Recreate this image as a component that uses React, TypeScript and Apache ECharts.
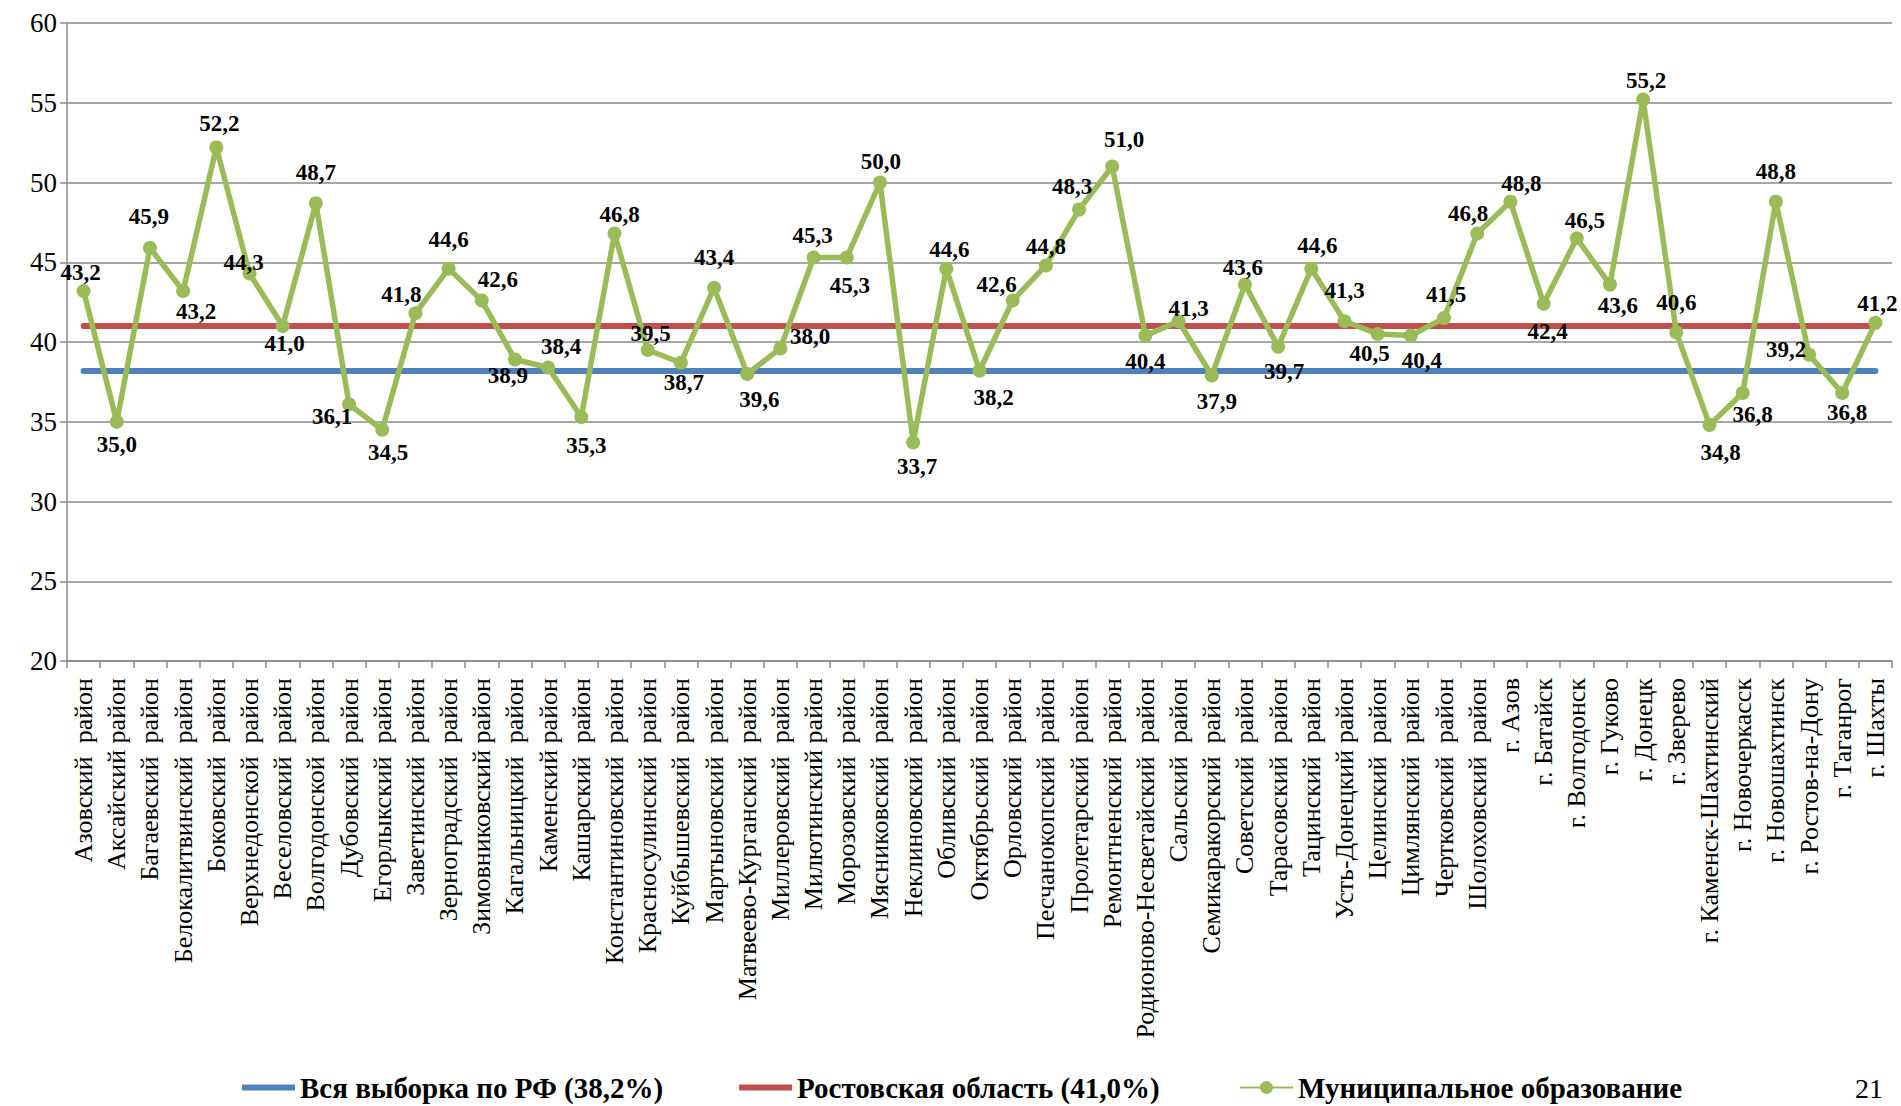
import React, { useEffect, useRef } from "react";
import * as echarts from "echarts";

const categories = [
  "Азовский  район", "Аксайский район", "Багаевский  район", "Белокалитвинский  район", "Боковский  район",
  "Верхнедонской  район", "Веселовский  район", "Волгодонской  район", "Дубовский  район", "Егорлыкский  район",
  "Заветинский  район", "Зерноградский  район", "Зимовниковский район", "Кагальницкий  район", "Каменский район",
  "Кашарский  район", "Константиновский  район", "Красносулинский  район", "Куйбышевский  район", "Мартыновский  район",
  "Матвеево-Курганский  район", "Миллеровский  район", "Милютинский район", "Морозовский  район", "Мясниковский  район",
  "Неклиновский  район", "Обливский  район", "Октябрьский  район", "Орловский  район", "Песчанокопский  район",
  "Пролетарский  район", "Ремонтненский  район", "Родионово-Несветайский  район", "Сальский  район", "Семикаракорский  район",
  "Советский  район", "Тарасовский  район", "Тацинский  район", "Усть-Донецкий район", "Целинский  район",
  "Цимлянский  район", "Чертковский  район", "Шолоховский  район", "г. Азов", "г. Батайск",
  "г. Волгодонск", "г. Гуково", "г. Донецк", "г. Зверево", "г. Каменск-Шахтинский",
  "г. Новочеркасск", "г. Новошахтинск", "г. Ростов-на-Дону", "г. Таганрог", "г. Шахты",
];

const municipalValues = [
  43.2, 35.0, 45.9, 43.2, 52.2, 44.3, 41.0, 48.7, 36.1, 34.5,
  41.8, 44.6, 42.6, 38.9, 38.4, 35.3, 46.8, 39.5, 38.7, 43.4,
  38.0, 39.6, 45.3, 45.3, 50.0, 33.7, 44.6, 38.2, 42.6, 44.8,
  48.3, 51.0, 40.4, 41.3, 37.9, 43.6, 39.7, 44.6, 41.3, 40.5,
  40.4, 41.5, 46.8, 48.8, 42.4, 46.5, 43.6, 55.2, 40.6, 34.8,
  36.8, 48.8, 39.2, 36.8, 41.2,
];

const rfAverage = 38.2;
const rostovAverage = 41.0;

const seriesNames = [
  "Вся выборка по РФ (38,2%)",
  "Ростовская область (41,0%)",
  "Муниципальное образование",
];

const yMin = 20;
const yMax = 60;
const yInterval = 5;

const pageNumber = "21";

// label centre offset from its point centre, px: [dx, dy]
const labelOffsets: [number, number][] = [
  [-3, -18], [0, 23], [-1, -31], [13, 21], [3, -24],
  [-6, -11], [2, 17], [0, -31], [-17, 12], [6, 23],
  [-14, -19], [0, -29], [16, -21], [-7, 16], [13, -21],
  [5, 29], [5, -19], [3, -16], [3, 20], [0, -30],
  [63, -37], [-21, 51], [-1, -22], [3, 28], [1, -21],
  [4, 24], [3, -19], [14, 27], [-16, -16], [0, -19],
  [-7, -23], [12, -27], [0, 26], [10, -13], [5, 26],
  [-2, -17], [6, 25], [6, -23], [0, -31], [-8, 19],
  [11, 25], [2, -24], [-9, -20], [11, -18], [4, 28],
  [8, -18], [8, 21], [3, -19], [0, -30], [11, 28],
  [10, 21], [0, -30], [-23, -5], [5, 19], [2, -19],
];

const FONT = '"Liberation Serif", "Times New Roman", serif';
const GRID_COLOR = "#8a8a8a";
const BLUE = "#4F81BD";
const RED = "#C0504D";
const GREEN = "#9BBB59";

const fmt = (v: number) => v.toFixed(1).replace(".", ",");

export default function App() {
  const ref = useRef<HTMLDivElement>(null);

  useEffect(() => {
    if (!ref.current) return;
    const chart = echarts.init(ref.current, null, { renderer: "svg" });

    const refLine = (value: number, color: string) => ({
      silent: true,
      z: 1,
      symbol: "none",
      label: { show: false },
      emphasis: { disabled: true },
      lineStyle: { color, width: 6, type: "solid", cap: "round" },
      data: [[{ coord: [0, value] }, { coord: [categories.length - 1, value] }]],
    });

    const legendText = { fontFamily: FONT, fontSize: 29, fontWeight: "bold", color: "#000" };

    const option = {
      animation: false,
      backgroundColor: "#ffffff",
      textStyle: { fontFamily: FONT },
      grid: { left: 67, right: 9, top: 23, bottom: 445, containLabel: false },
      legend: [
        {
          left: 237,
          top: 1068,
          itemGap: 76,
          itemWidth: 53,
          itemHeight: 6,
          icon: "rect",
          data: [seriesNames[0], seriesNames[1]],
          textStyle: legendText,
        },
        {
          left: 1234,
          top: 1068,
          itemWidth: 53,
          itemHeight: 16,
          data: [seriesNames[2]],
          textStyle: legendText,
        },
      ],
      xAxis: {
        type: "category",
        data: categories,
        boundaryGap: true,
        axisLine: { show: true, lineStyle: { color: GRID_COLOR, width: 1.5 } },
        axisTick: { show: true, interval: 0, length: 7, lineStyle: { color: GRID_COLOR, width: 1.5 } },
        axisLabel: {
          interval: 0,
          rotate: 90,
          margin: 17,
          fontSize: 26,
          fontFamily: FONT,
          color: "#000",
        },
      },
      yAxis: {
        type: "value",
        min: yMin,
        max: yMax,
        interval: yInterval,
        axisLine: { show: true, lineStyle: { color: GRID_COLOR, width: 1.5 } },
        axisTick: { show: true, length: 7, lineStyle: { color: GRID_COLOR, width: 1.5 } },
        splitLine: { show: true, lineStyle: { color: GRID_COLOR, width: 1.5 } },
        axisLabel: { margin: 10, fontSize: 27, fontFamily: FONT, color: "#000" },
      },
      series: [
        {
          name: seriesNames[0],
          type: "line",
          data: [],
          symbol: "none",
          lineStyle: { color: BLUE, width: 6 },
          itemStyle: { color: BLUE },
          markLine: refLine(rfAverage, BLUE),
          z: 1,
        },
        {
          name: seriesNames[1],
          type: "line",
          data: [],
          symbol: "none",
          lineStyle: { color: RED, width: 6 },
          itemStyle: { color: RED },
          markLine: refLine(rostovAverage, RED),
          z: 1,
        },
        {
          name: seriesNames[2],
          type: "line",
          symbol: "circle",
          symbolSize: 14,
          lineStyle: { color: GREEN, width: 5.5 },
          itemStyle: { color: GREEN },
          z: 3,
          data: municipalValues,
          label: {
            show: true,
            position: "top",
            fontFamily: FONT,
            fontSize: 23,
            fontWeight: "bold",
            color: "#000",
            formatter: (p: any) => fmt(p.value),
          },
          labelLayout: (p: any) => {
            const off = labelOffsets[p.dataIndex] || [0, -22];
            const r = p.rect;
            return {
              x: r.x + r.width / 2 + off[0],
              y: r.y + r.height / 2 + off[1],
              align: "center",
              verticalAlign: "middle",
              hideOverlap: false,
            };
          },
        },
      ],
      graphic: [
        {
          type: "text",
          left: 1855,
          top: 1074,
          z: 10,
          style: { text: pageNumber, font: `28px ${FONT}`, fill: "#000" },
        },
      ],
    };

    chart.setOption(option as any);
    return () => chart.dispose();
  }, []);

  return (
    <div
      ref={ref}
      style={{ position: "absolute", left: 0, top: 0, width: 1901, height: 1106 }}
    />
  );
}
